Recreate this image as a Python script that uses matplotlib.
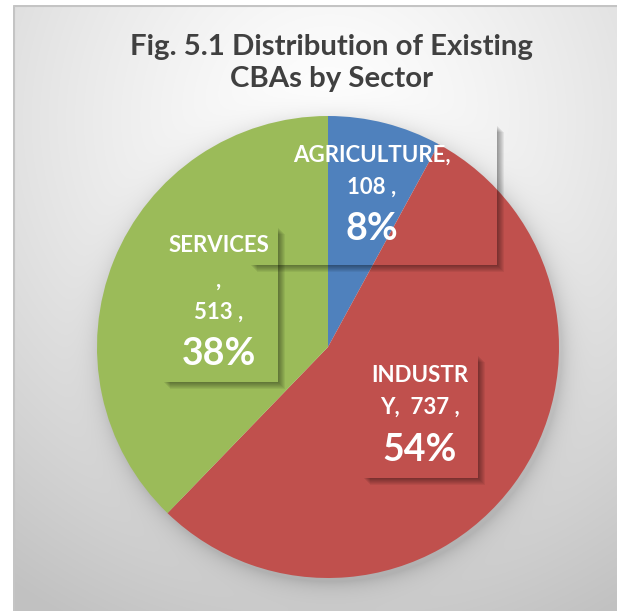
import matplotlib
matplotlib.use('Agg')
import matplotlib.pyplot as plt
import numpy as np
from matplotlib.patches import Polygon

W, H = 617, 611
DPI = 100

sectors = ['AGRICULTURE', 'INDUSTRY', 'SERVICES']
counts = [108, 737, 513]
colors = ['#4F81BD', '#C0504D', '#9BBB59']
# data label text as it wraps inside each label box
label_lines = [['AGRICULTURE,', '108 ,'], ['INDUSTR', 'Y,  737 ,'], ['SERVICES', ',', '513 ,']]
title = 'Fig. 5.1 Distribution of Existing\nCBAs by Sector'

# layout, in pixels (y from the top)
CX, CY, R = 328, 347, 231
FRAME_L, FRAME_T = 13, 5
# label boxes: left, top, right, bottom
boxes = [(250, 125, 497, 265), (363, 355, 478, 478), (163, 227, 278, 382)]
text_x = [372, 420, 219]
line_y = [[155, 187], [375, 407], [245, 280, 312]]
pct_y = [229, 450, 354]

plt.rcParams['font.family'] = ['Lato', 'DejaVu Sans']

fig = plt.figure(figsize=(W / DPI, H / DPI), dpi=DPI)
fig.patch.set_facecolor('white')

# background with a soft radial gradient and the pie's drop shadow
bg = fig.add_axes([FRAME_L / W, 0, 1 - FRAME_L / W, (H - FRAME_T) / H])
bg.set_axis_off()
xs = np.arange(FRAME_L, W) + 0.5
ys = np.arange(FRAME_T, H) + 0.5
gx, gy = np.meshgrid(xs, ys)
rr = np.hypot(gx - 330, gy - 120) / 560
shade = 1.0 - 0.24 * np.clip(rr, 0, 1) ** 1.3
d = np.hypot(gx - (CX + 3), gy - (CY + 4)) - R
shade -= 0.12 * np.exp(-np.clip(d, 0, None) / 10) * (d > -20)
img = np.dstack([shade, shade, shade])
bg.imshow(img, extent=(FRAME_L, W, H, FRAME_T), aspect='auto', interpolation='bilinear')
bg.set_xlim(FRAME_L, W)
bg.set_ylim(H, FRAME_T)
bg.plot([FRAME_L + 0.5, FRAME_L + 0.5, W], [H, FRAME_T + 0.5, FRAME_T + 0.5],
        color='#c4c4c4', lw=1.5)

# pie
ax = fig.add_axes([(CX - R) / W, (H - CY - R) / H, 2 * R / W, 2 * R / H])
ax.pie(counts, colors=colors, startangle=90, counterclock=False,
       radius=1, wedgeprops=dict(linewidth=0))
ax.set_xlim(-1, 1)
ax.set_ylim(-1, 1)
ax.set_axis_off()


def px(x, y):
    return (x - CX) / R, (CY - y) / R


total = sum(counts)
for i in range(len(counts)):
    x0, t, x1, b = boxes[i]
    # blurred shadow along the right and bottom edges of the label box
    for k in range(1, 8):
        pts = [px(x1, t + k), px(x1 + k, t + k), px(x1 + k, b + k),
               px(x0 + k, b + k), px(x0 + k, b), px(x1, b)]
        ax.add_patch(Polygon(pts, closed=True, facecolor='black', edgecolor='none',
                             alpha=0.06, clip_on=False))
    for line, yy in zip(label_lines[i], line_y[i]):
        tx, ty = px(text_x[i], yy)
        ax.text(tx, ty, line, color='white', fontsize=16, fontweight='bold',
                ha='center', va='center')
    tx, ty = px(text_x[i], pct_y[i])
    ax.text(tx, ty, f'{round(100 * counts[i] / total)}%', color='white',
            fontsize=27, fontweight='bold', ha='center', va='center')

fig.text(332 / W, 1 - 63 / H, title, ha='center', va='center', fontsize=21.2,
         fontweight='bold', color='#404040', linespacing=1.28)

fig.savefig('out.png', dpi=DPI)
